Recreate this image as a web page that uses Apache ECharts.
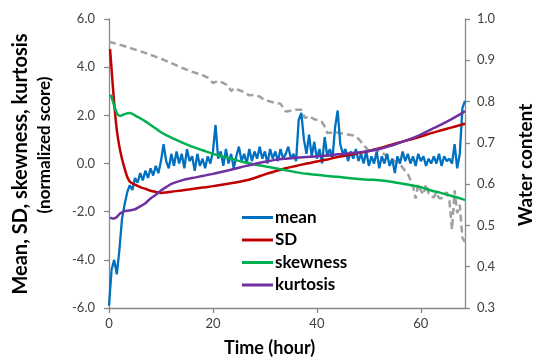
<!DOCTYPE html>
<html><head><meta charset="utf-8">
<script src="https://cdn.jsdelivr.net/npm/echarts@6/dist/echarts.min.js"></script>
<style>html,body{margin:0;padding:0;background:#fff}#c{width:534px;height:360px}</style>
</head><body><div id="c"></div>
<script>
// ---- data ----
const meanTime = [0,0.5,1,1.5,2,2.5,3,3.5,4,4.5,5,5.5,6,6.5,7,7.5,8,8.5,9,9.5,10,10.5,11,11.5,12,12.5,13,13.5,14,14.5,15,15.5,16,16.5,17,17.5,18,18.5,19,19.5,20,20.5,21,21.5,22,22.5,23,23.5,24,24.5,25,25.5,26,26.5,27,27.5,28,28.5,29,29.5,30,30.5,31,31.5,32,32.5,33,33.5,34,34.5,35,35.5,36,36.5,37,37.5,38,38.5,39,39.5,40,40.5,41,41.5,42,42.5,43,43.5,44,44.5,45,45.5,46,46.5,47,47.5,48,48.5,49,49.5,50,50.5,51,51.5,52,52.5,53,53.5,54,54.5,55,55.5,56,56.5,57,57.5,58,58.5,59,59.5,60,60.5,61,61.5,62,62.5,63,63.5,64,64.5,65,65.5,66,66.5,67,67.5,68,68.5];
const meanValues = [-5.9,-4.4,-4.0,-4.6,-3.6,-2.3,-1.7,-1.2,-0.9,-1.1,-0.6,-0.8,-0.4,-0.7,-0.3,-0.6,-0.2,-0.5,-0.1,-0.4,0.1,0.8,0.1,-0.2,0.4,-0.1,0.5,0.0,0.4,-0.2,0.6,0.1,0.3,-0.3,0.4,-0.1,0.2,-0.2,0.3,0.0,0.5,1.6,0.2,0.5,-0.1,0.6,0.0,0.4,-0.2,0.3,0.7,0.1,0.4,0.0,0.6,0.1,0.5,0.2,0.7,0.2,0.5,0.0,0.6,0.2,0.5,0.1,0.6,0.2,0.4,0.7,0.2,0.4,0.1,1.8,2.1,1.0,0.4,1.2,0.3,0.9,0.2,0.6,0.0,1.1,0.3,0.6,0.2,1.5,2.2,0.8,0.4,0.6,0.1,0.5,0.2,0.6,0.1,0.4,0.0,0.5,-0.1,0.3,0.0,0.5,-0.2,0.3,0.0,0.4,-0.1,0.2,-0.4,0.3,0.0,0.5,0.1,0.4,0.0,0.3,-0.1,0.4,0.1,0.3,-0.1,0.2,0.0,0.3,0.0,0.4,-0.1,0.3,0.1,0.2,0.0,0.8,-0.2,0.4,2.3,2.6];

const smoothTime = [0.2,0.5,1,1.5,2,2.5,3,3.5,4,5,6,7,8,9,10,11,12,14,16,18,20,22,24,26,28,30,32,34,36,38,40,42,44,46,48,50,52,54,56,58,60,62,64,66,68,68.5];
const sdValues = [4.75,3.9,2.5,1.4,0.7,0.2,-0.2,-0.55,-0.75,-0.88,-0.98,-1.05,-1.13,-1.18,-1.22,-1.2,-1.17,-1.12,-1.06,-1.0,-0.94,-0.87,-0.8,-0.72,-0.6,-0.45,-0.32,-0.2,-0.1,0.0,0.08,0.17,0.27,0.35,0.43,0.52,0.63,0.76,0.88,0.99,1.12,1.26,1.38,1.5,1.62,1.66];
const skewValues = [2.85,2.75,2.4,2.1,1.98,2.0,2.05,2.08,2.1,2.0,1.88,1.75,1.6,1.45,1.3,1.18,1.07,0.88,0.7,0.55,0.4,0.28,0.17,0.05,-0.04,-0.12,-0.2,-0.28,-0.36,-0.43,-0.47,-0.52,-0.55,-0.6,-0.64,-0.67,-0.7,-0.75,-0.82,-0.9,-0.98,-1.12,-1.23,-1.35,-1.48,-1.52];
const kurtValues = [-2.25,-2.27,-2.28,-2.22,-2.1,-2.03,-1.98,-1.96,-1.95,-1.9,-1.78,-1.65,-1.45,-1.3,-1.12,-0.98,-0.85,-0.7,-0.6,-0.52,-0.43,-0.33,-0.23,-0.12,-0.02,0.07,0.15,0.2,0.24,0.27,0.3,0.33,0.38,0.42,0.46,0.52,0.6,0.72,0.87,1.02,1.2,1.42,1.62,1.85,2.1,2.18];

const waterTime = [0,2,4,6,8,10,12,14,16,18,19,20,21,22,23,23.5,24,25,26,27,28,29,30,31,32,33,34,35,36,37,37.7,38.5,39.5,40.2,41,41.5,42,43,44,45,46,47,48,49,50,51,52,53,54,55,56,57,57.5,58,58.5,59,59.5,60,60.5,61,61.5,62,62.5,63,63.5,64,64.5,65,65.5,66,66.5,67,67.5,68,68.5];
const waterValues = [0.945,0.938,0.930,0.922,0.913,0.904,0.893,0.882,0.872,0.864,0.858,0.845,0.85,0.845,0.838,0.825,0.832,0.828,0.823,0.815,0.816,0.812,0.803,0.8,0.797,0.795,0.776,0.778,0.78,0.78,0.76,0.765,0.757,0.755,0.75,0.74,0.724,0.725,0.725,0.722,0.72,0.718,0.71,0.695,0.68,0.685,0.68,0.672,0.665,0.655,0.648,0.632,0.625,0.61,0.595,0.565,0.6,0.585,0.575,0.6,0.578,0.57,0.568,0.58,0.566,0.566,0.575,0.58,0.56,0.49,0.585,0.53,0.55,0.47,0.46];

const leftTicks = {min: -6, max: 6, interval: 2};
const rightTicks = {min: 0.3, max: 1.0, interval: 0.1};
const timeTicks = {min: 0, max: 68.5, interval: 20};
const seriesNames = ['mean', 'SD', 'skewness', 'kurtosis', 'Water content'];

// ---- chart ----
const zip = (xs, ys) => xs.map((x, i) => [x, ys[i]]);
const FONT = 'Lato, "Open Sans", sans-serif';
const axisGray = '#898989';
const labelColor = '#404040';
const chart = echarts.init(document.getElementById('c'), null, {renderer: 'canvas'});
chart.setOption({
  animation: false,
  backgroundColor: '#fff',
  grid: {left: 109, right: 69, top: 19, bottom: 52, containLabel: false},
  xAxis: {
    type: 'value', min: timeTicks.min, max: timeTicks.max, interval: timeTicks.interval,
    axisLine: {show: true, onZero: false, lineStyle: {color: axisGray, width: 1.3}},
    axisTick: {show: true, length: 5, lineStyle: {color: axisGray, width: 1.3}},
    axisLabel: {showMaxLabel: false, color: labelColor, fontSize: 13, fontFamily: FONT, margin: 9},
    splitLine: {show: false}
  },
  yAxis: [{
    type: 'value', min: leftTicks.min, max: leftTicks.max, interval: leftTicks.interval,
    axisLine: {show: true, lineStyle: {color: axisGray, width: 1.3}},
    axisTick: {show: true, length: 5, lineStyle: {color: axisGray, width: 1.3}},
    axisLabel: {color: labelColor, fontSize: 13, fontFamily: FONT, margin: 14, formatter: v => v.toFixed(1)},
    splitLine: {show: false}
  }, {
    type: 'value', min: rightTicks.min, max: rightTicks.max, interval: rightTicks.interval,
    axisLine: {show: true, lineStyle: {color: axisGray, width: 1.3}},
    axisTick: {show: true, length: 5, lineStyle: {color: axisGray, width: 1.3}},
    axisLabel: {color: labelColor, fontSize: 13, fontFamily: FONT, margin: 12, formatter: v => v.toFixed(1)},
    splitLine: {show: false}
  }],
  legend: {
    data: seriesNames.slice(0, 4),
    orient: 'vertical', left: 237, top: 204,
    icon: 'rect', itemWidth: 31, itemHeight: 3, itemGap: 5.5,
    textStyle: {fontFamily: FONT, fontWeight: 'bold', fontSize: 17, color: '#000', padding: [0, 0, 0, -3]}
  },
  graphic: [
    {type: 'text', top: 339, left: 224, style: {text: 'Time (hour)', font: 'bold 18px ' + FONT, fill: '#000'}},
    {type: 'text', rotation: Math.PI / 2, x: 21, y: 164, style: {text: 'Mean, SD, skewness, kurtosis', font: 'bold 20px ' + FONT, fill: '#000', align: 'center', verticalAlign: 'middle'}},
    {type: 'text', rotation: Math.PI / 2, x: 45, y: 145, style: {text: '(normalized score)', font: 'bold 17px ' + FONT, fill: '#000', align: 'center', verticalAlign: 'middle'}},
    {type: 'text', rotation: Math.PI / 2, x: 526, y: 165, style: {text: 'Water content', font: 'bold 19px ' + FONT, fill: '#000', align: 'center', verticalAlign: 'middle'}}
  ],
  series: [
    {name: seriesNames[4], type: 'line', yAxisIndex: 1, showSymbol: false, data: zip(waterTime, waterValues),
      lineStyle: {color: '#A0A0A0', width: 2.5, type: [7, 4]}, itemStyle: {color: '#A0A0A0'}},
    {name: seriesNames[0], type: 'line', showSymbol: false, data: zip(meanTime, meanValues),
      lineStyle: {color: '#0070C0', width: 2.3}, itemStyle: {color: '#0070C0'}},
    {name: seriesNames[1], type: 'line', showSymbol: false, smooth: 0.3, data: zip(smoothTime, sdValues),
      lineStyle: {color: '#C00000', width: 2.5}, itemStyle: {color: '#C00000'}},
    {name: seriesNames[2], type: 'line', showSymbol: false, smooth: 0.3, data: zip(smoothTime, skewValues),
      lineStyle: {color: '#00B050', width: 2.5}, itemStyle: {color: '#00B050'}},
    {name: seriesNames[3], type: 'line', showSymbol: false, smooth: 0.3, data: zip(smoothTime, kurtValues),
      lineStyle: {color: '#7030A0', width: 2.5}, itemStyle: {color: '#7030A0'}}
  ]
});
</script></body></html>
